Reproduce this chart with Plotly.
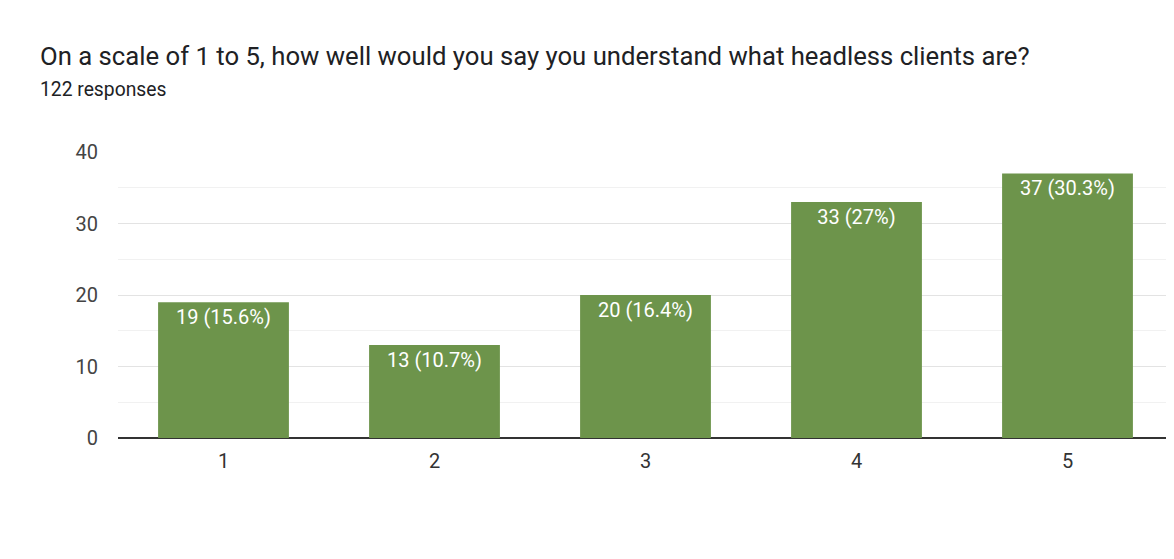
import plotly.graph_objects as go

# dados
categorias = ["1", "2", "3", "4", "5"]
respostas = [19, 13, 20, 33, 37]
percentuais = ["15.6%", "10.7%", "16.4%", "27%", "30.3%"]
rotulos = [f"{n} ({p})" for n, p in zip(respostas, percentuais)]

fig = go.Figure()
fig.add_trace(go.Bar(
    x=categorias, y=respostas, text=rotulos,
    textposition="inside", insidetextanchor="end",
    textfont=dict(color="white", size=20, family="Roboto"),
    marker=dict(color="#6d944b", line=dict(width=0)),
    hoverinfo="skip",
))

# titulo e subtitulo como anotacoes alinhadas a esquerda
fig.add_annotation(text="On a scale of 1 to 5, how well would you say you understand what headless clients are?",
                   xref="paper", yref="paper", x=-0.0758, y=1.336, xanchor="left", yanchor="middle",
                   showarrow=False, font=dict(size=25.7, color="#202124", family="Roboto"))
fig.add_annotation(text="122 responses",
                   xref="paper", yref="paper", x=-0.0758, y=1.217, xanchor="left", yanchor="middle",
                   showarrow=False, font=dict(size=19.3, color="#202124", family="Roboto"))

fig.update_layout(
    width=1166, height=551,
    margin=dict(l=110, r=1, t=144, b=121),
    plot_bgcolor="white", paper_bgcolor="white",
    bargap=0.38, showlegend=False,
    font=dict(family="Roboto", color="#444444", size=20),
    xaxis=dict(showgrid=False, ticks="", tickfont=dict(size=20, color="#333333"),
               showline=False, ticklabelstandoff=9),
    yaxis=dict(range=[0, 40], dtick=10, showgrid=True, gridcolor="#e3e3e3", gridwidth=1,
               zeroline=True, zerolinecolor="#333333", zerolinewidth=2,
               tickfont=dict(size=20, color="#444444"), ticklabelstandoff=19,
               minor=dict(dtick=5, showgrid=True, gridcolor="#f1f1f1", gridwidth=1)),
)

fig.write_html("out.html")
